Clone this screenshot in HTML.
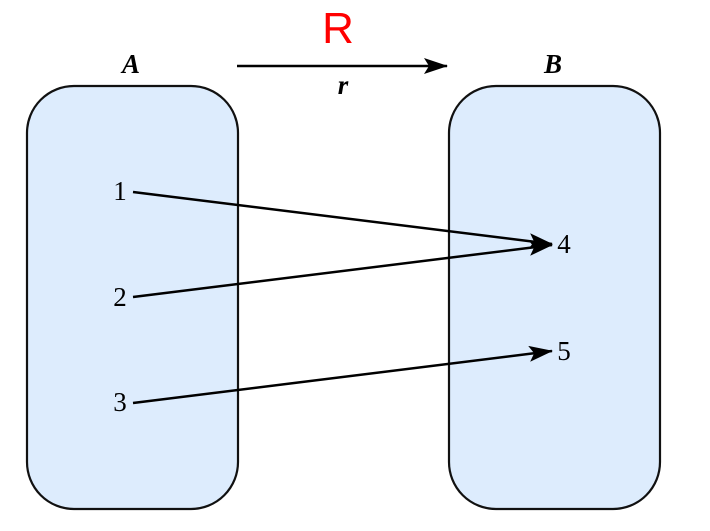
<!DOCTYPE html>
<html><head><meta charset="utf-8"><style>
html,body{margin:0;padding:0;background:#fff;width:710px;height:531px;overflow:hidden}
.t{font-family:"Liberation Serif",serif;font-size:27px;fill:#000}
.i{font-style:italic;font-weight:bold}
</style></head><body>
<svg width="710" height="531" viewBox="0 0 710 531" xmlns="http://www.w3.org/2000/svg">
<defs>
<marker id="ah2" markerWidth="24" markerHeight="16" refX="23" refY="8" orient="auto" markerUnits="userSpaceOnUse">
<path d="M0,0 L24,8 L0,16 L5,8 Z" fill="#000"/>
</marker>
</defs>
<rect x="27" y="86" width="211" height="423" rx="47" ry="47" fill="#ddecfd" stroke="#111" stroke-width="2.2"/>
<rect x="449" y="86" width="211" height="423" rx="47" ry="47" fill="#ddecfd" stroke="#111" stroke-width="2.2"/>
<text class="t i" x="131" y="73" text-anchor="middle">A</text>
<text class="t i" x="553" y="73" text-anchor="middle">B</text>
<text class="t i" x="343" y="94" text-anchor="middle">r</text>
<text class="t" x="120" y="200" text-anchor="middle">1</text>
<text class="t" x="120" y="306" text-anchor="middle">2</text>
<text class="t" x="120" y="411" text-anchor="middle">3</text>
<text class="t" x="564" y="253" text-anchor="middle">4</text>
<text class="t" x="564" y="360" text-anchor="middle">5</text>
<text x="338" y="43" text-anchor="middle" style="font-family:'Liberation Sans',sans-serif;font-size:44px;fill:#f00">R</text>
<line x1="237" y1="66" x2="447" y2="66" stroke="#000" stroke-width="2.5" marker-end="url(#ah2)"/>
<g stroke="#000" stroke-width="2.5" fill="none">
<line x1="133" y1="192" x2="552" y2="244" marker-end="url(#ah2)"/>
<line x1="133" y1="297" x2="552" y2="245" marker-end="url(#ah2)"/>
<line x1="133" y1="403" x2="552" y2="351" marker-end="url(#ah2)"/>
</g>
</svg>
</body></html>
